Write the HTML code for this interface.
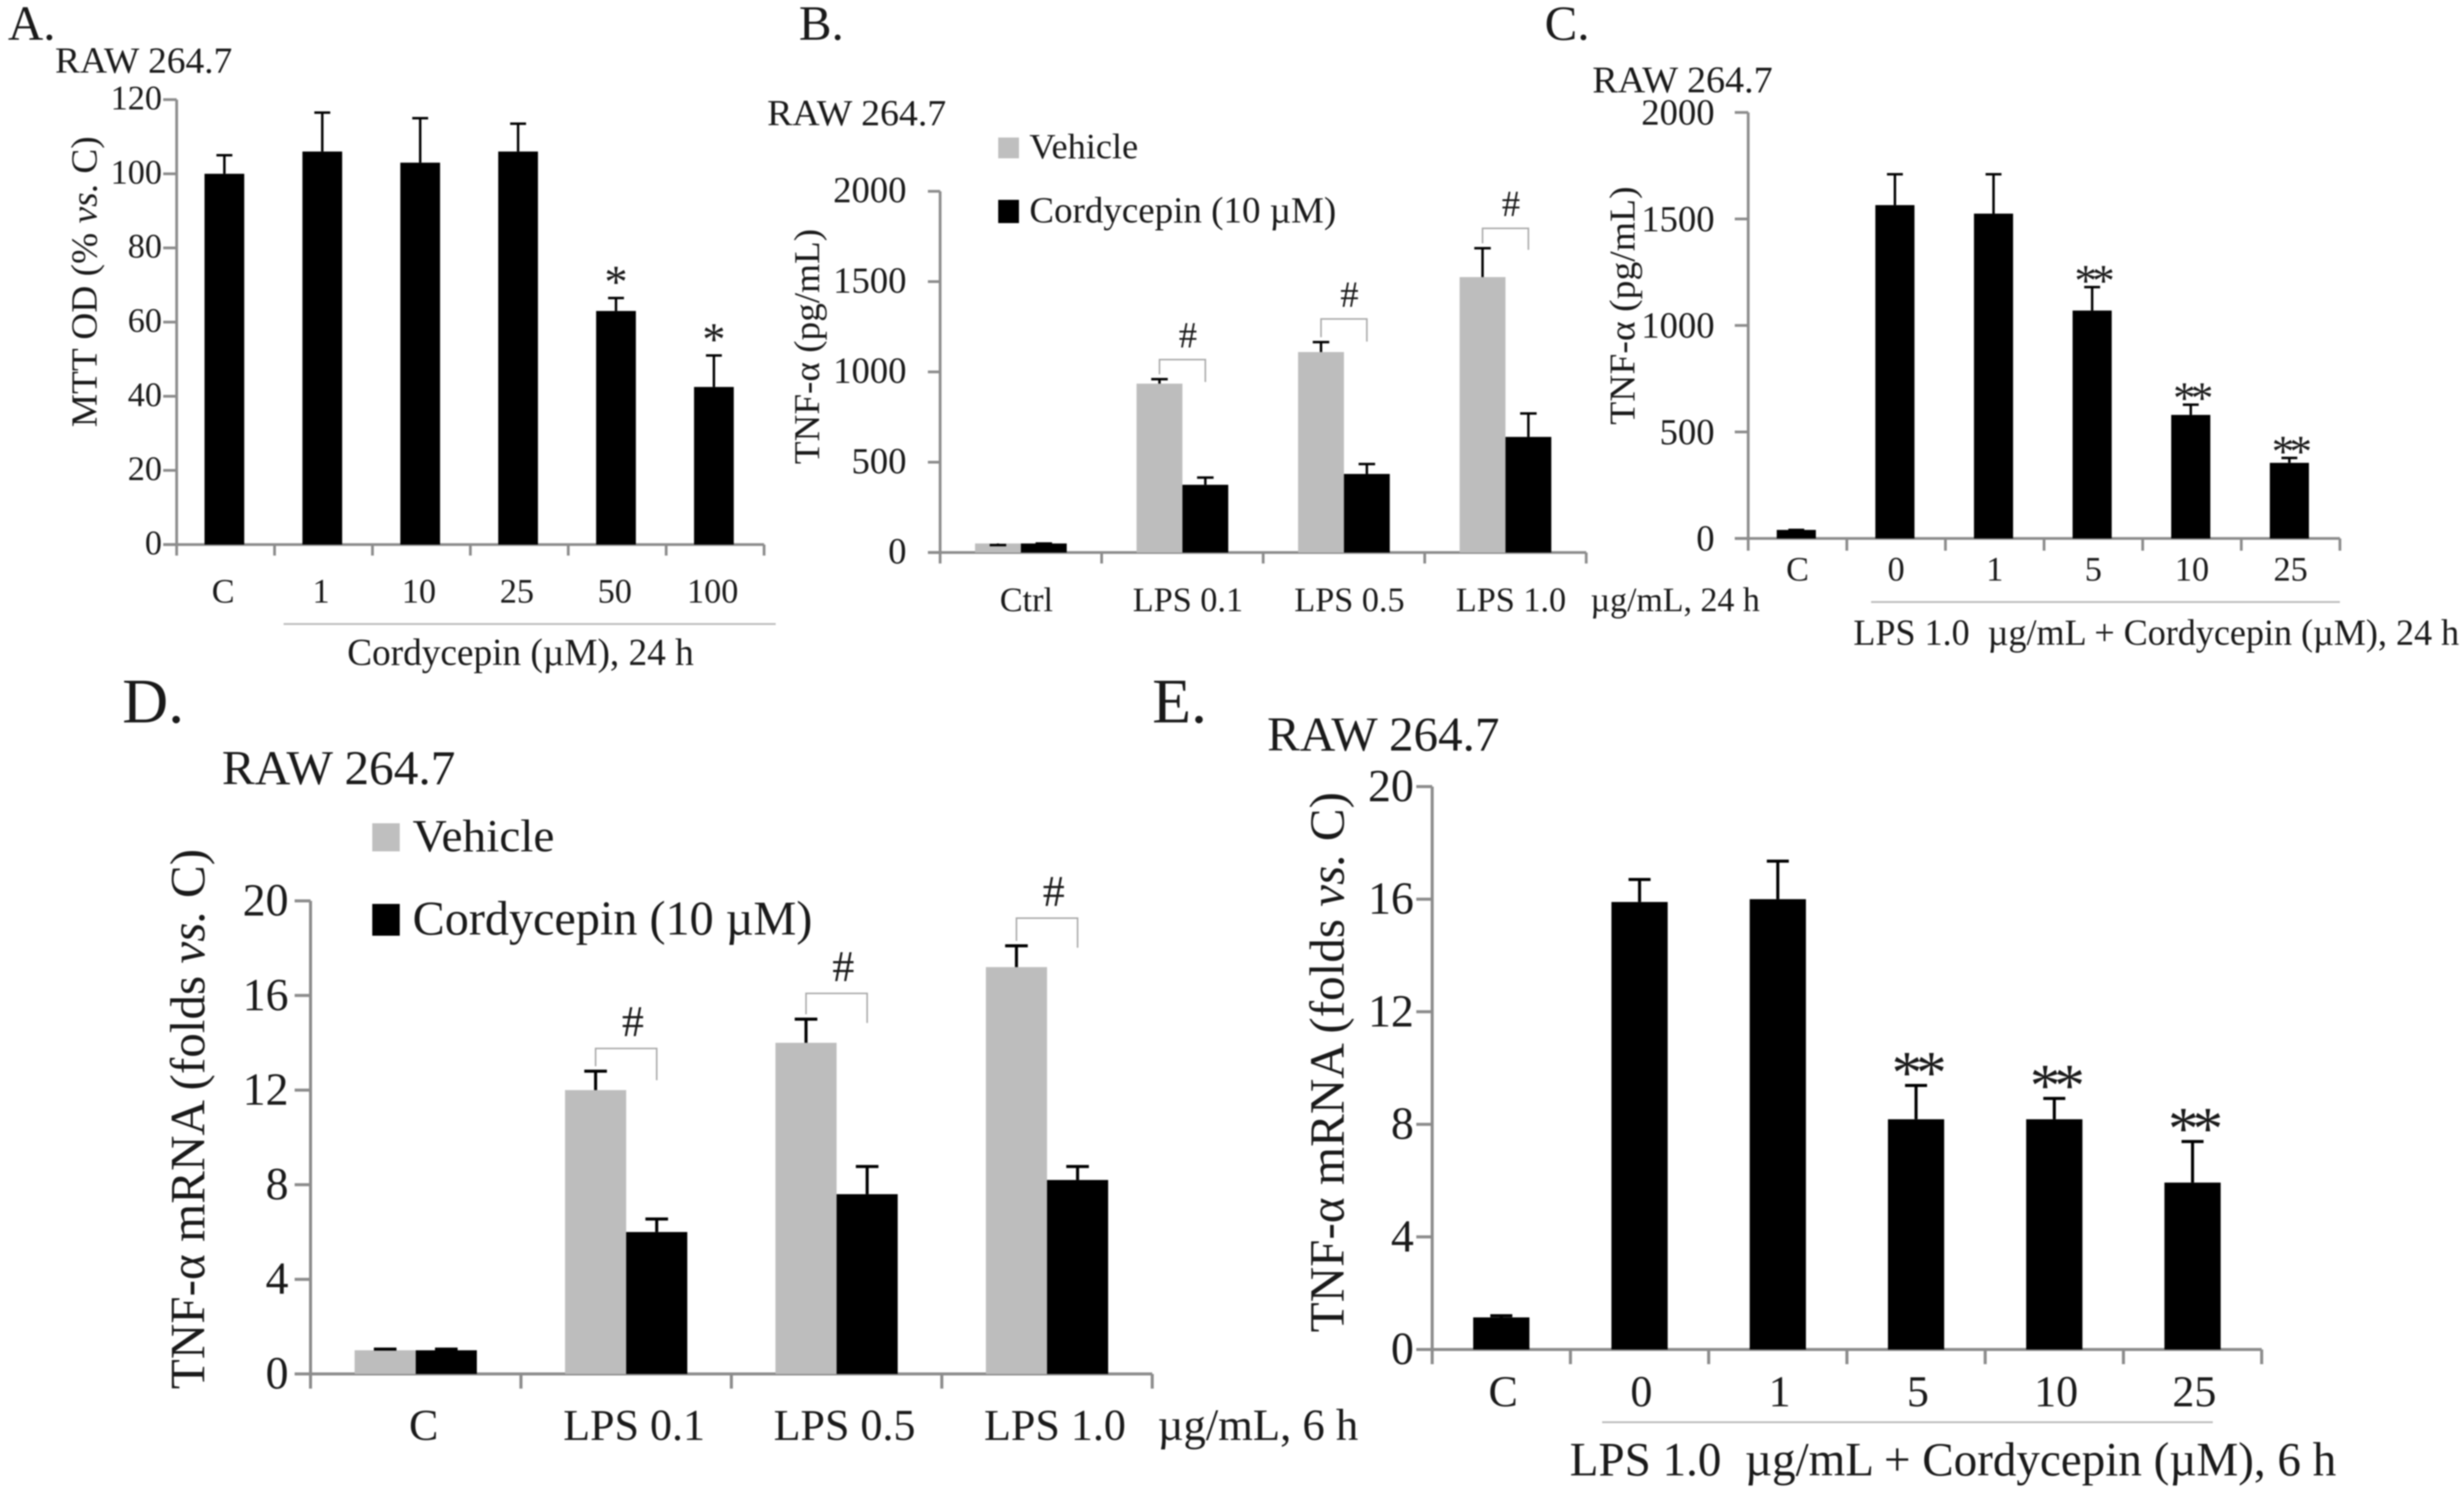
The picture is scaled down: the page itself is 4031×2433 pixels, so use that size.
<!DOCTYPE html>
<html lang="en">
<head>
<meta charset="utf-8">
<title>Cordycepin TNF-alpha figure</title>
<style>
html,body{margin:0;padding:0;background:#fff;}
svg{display:block;filter:blur(1.1px);}
text{font-family:"Liberation Serif",serif;fill:#1a1a1a;}
</style>
</head>
<body>
<svg id="figure" xmlns="http://www.w3.org/2000/svg" width="4031" height="2433" viewBox="0 0 4031 2433">
<rect x="0" y="0" width="4031" height="2433" fill="#fff"/>

<g id="panel-a">
<text x="13" y="65" font-size="80">A.</text>
<text x="90" y="119" font-size="60" textLength="290" lengthAdjust="spacingAndGlyphs">RAW 264.7</text>
<text transform="translate(158,461) rotate(-90)" text-anchor="middle" font-size="60" textLength="476" lengthAdjust="spacingAndGlyphs">MTT OD (% <tspan font-style="italic">vs.</tspan> C)</text>
<line x1="464" y1="1021" x2="1269" y2="1021" stroke="#bbb" stroke-width="3"/>
<text x="568" y="1088" font-size="62" textLength="567" lengthAdjust="spacingAndGlyphs">Cordycepin (µM), 24 h</text>
</g>

<g id="panel-b">
<text x="1307" y="65" font-size="80">B.</text>
<text x="1255" y="205" font-size="60" textLength="293" lengthAdjust="spacingAndGlyphs">RAW 264.7</text>
<rect x="1633" y="225" width="34" height="34" fill="#bfbfbf"/>
<text x="1684" y="259" font-size="58" textLength="178" lengthAdjust="spacingAndGlyphs">Vehicle</text>
<rect x="1633" y="327" width="34" height="38" fill="#000"/>
<text x="1684" y="364" font-size="60" textLength="502" lengthAdjust="spacingAndGlyphs">Cordycepin (10 µM)</text>
<text transform="translate(1340,567) rotate(-90)" text-anchor="middle" font-size="59" textLength="385" lengthAdjust="spacingAndGlyphs">TNF-α (pg/mL)</text>
<text x="2602" y="1000" font-size="56" textLength="277" lengthAdjust="spacingAndGlyphs">µg/mL, 24 h</text>
</g>

<g id="panel-c">
<text x="2527" y="65" font-size="80">C.</text>
<text x="2605" y="151" font-size="61" textLength="295" lengthAdjust="spacingAndGlyphs">RAW 264.7</text>
<text transform="translate(2674,500) rotate(-90)" text-anchor="middle" font-size="59" textLength="390" lengthAdjust="spacingAndGlyphs">TNF-α (pg/mL)</text>
<line x1="3061" y1="985" x2="3828" y2="985" stroke="#bbb" stroke-width="3"/>
<text x="3032" y="1055" font-size="60" xml:space="preserve" textLength="991" lengthAdjust="spacingAndGlyphs">LPS 1.0  µg/mL + Cordycepin (µM), 24 h</text>
</g>

<g id="panel-d">
<text x="200" y="1182" font-size="104">D.</text>
<text x="363" y="1283" font-size="79" textLength="382" lengthAdjust="spacingAndGlyphs">RAW 264.7</text>
<rect x="609" y="1347" width="45" height="46" fill="#bfbfbf"/>
<text x="675" y="1393" font-size="75" textLength="232" lengthAdjust="spacingAndGlyphs">Vehicle</text>
<rect x="609" y="1479" width="45" height="52" fill="#000"/>
<text x="675" y="1529" font-size="79" textLength="654" lengthAdjust="spacingAndGlyphs">Cordycepin (10 µM)</text>
<text transform="translate(334,1831) rotate(-90)" text-anchor="middle" font-size="80" textLength="884" lengthAdjust="spacingAndGlyphs">TNF-α mRNA (folds <tspan font-style="italic">vs.</tspan> C)</text>
<text x="1894" y="2356" font-size="73" textLength="328" lengthAdjust="spacingAndGlyphs">µg/mL, 6 h</text>
</g>

<g id="panel-e">
<text x="1885" y="1182" font-size="104">E.</text>
<text x="2073" y="1228" font-size="79" textLength="380" lengthAdjust="spacingAndGlyphs">RAW 264.7</text>
<text transform="translate(2198,1738) rotate(-90)" text-anchor="middle" font-size="80" textLength="884" lengthAdjust="spacingAndGlyphs">TNF-α mRNA (folds <tspan font-style="italic">vs.</tspan> C)</text>
<line x1="2621" y1="2327" x2="3620" y2="2327" stroke="#bbb" stroke-width="3"/>
<text x="2568" y="2414" font-size="78" xml:space="preserve" textLength="1254" lengthAdjust="spacingAndGlyphs">LPS 1.0  µg/mL + Cordycepin (µM), 6 h</text>
</g>
</svg>

<script>
// Panel A
const aCategories = ['C', '1', '10', '25', '50', '100'];
const aValues = [100, 106, 103, 106, 63, 42.5];
const aErrorTops = [105, 116.5, 115, 113.5, 66.5, 51];
const aStars = ['', '', '', '', '*', '*'];
const aTicks = [0, 20, 40, 60, 80, 100, 120];

// Panel B
const bCategories = ['Ctrl', 'LPS 0.1', 'LPS 0.5', 'LPS 1.0'];
const bVehicle = [50, 935, 1110, 1525];
const bVehicleErrorTops = [41, 960, 1165, 1685];
const bCordycepin = [50, 375, 435, 640];
const bCordycepinErrorTops = [50, 415, 490, 770];
const bBracketTops = [null, 1068, 1293, 1795];
const bBracketRightEnds = [null, 944, 1168, 1676];
const bTicks = [0, 500, 1000, 1500, 2000];

// Panel C
const cCategories = ['C', '0', '1', '5', '10', '25'];
const cValues = [40, 1565, 1525, 1070, 580, 355];
const cErrorTops = [40, 1710, 1710, 1180, 628, 378];
const cStars = ['', '', '', '**', '**', '**'];
const cTicks = [0, 500, 1000, 1500, 2000];

// Panel D
const dCategories = ['C', 'LPS 0.1', 'LPS 0.5', 'LPS 1.0'];
const dVehicle = [1, 12, 14, 17.2];
const dVehicleErrorTops = [1.05, 12.8, 15, 18.1];
const dCordycepin = [1, 6, 7.6, 8.2];
const dCordycepinErrorTops = [1.05, 6.55, 8.77, 8.77];
const dBracketTops = [null, 13.76, 16.09, 19.27];
const dBracketRightEnds = [null, 12.42, 14.84, 18.02];
const dTicks = [0, 4, 8, 12, 16, 20];

// Panel E
const eCategories = ['C', '0', '1', '5', '10', '25'];
const eValues = [1.14, 15.9, 16, 8.18, 8.18, 5.93];
const eErrorTops = [1.2, 16.7, 17.35, 9.38, 8.92, 7.39];
const eStars = ['', '', '', '**', '**', '**'];
const eTicks = [0, 4, 8, 12, 16, 20];

const SVG_NS = 'http://www.w3.org/2000/svg';
const AXIS_COLOR = '#8c8c8c';
const VEHICLE_COLOR = '#bdbdbd';

function create(tag, attrs, parent) {
  const el = document.createElementNS(SVG_NS, tag);
  for (const key in attrs) el.setAttribute(key, attrs[key]);
  parent.appendChild(el);
  return el;
}

function yScale(layout, ticks) {
  const max = ticks[ticks.length - 1];
  return v => layout.bottom - (v / max) * (layout.bottom - layout.top);
}

function bandCenter(layout, count, i) {
  return layout.left + (layout.right - layout.left) * (i + 0.5) / count;
}

function drawAxes(group, layout, categories, ticks) {
  const y = yScale(layout, ticks);
  const yAxis = create('line', { x1: layout.left, x2: layout.left, y1: layout.top, y2: layout.bottom, stroke: AXIS_COLOR, 'stroke-width': layout.axisWidth }, group);
  
  
  const xAxis = create('line', { x1: layout.left - layout.tickLen, x2: layout.right, y1: layout.bottom, y2: layout.bottom, stroke: AXIS_COLOR, 'stroke-width': layout.axisWidth }, group);
  
  

  ticks.forEach(t => {
    const mark = create('line', { x1: layout.left - layout.tickLen, x2: layout.left, y1: y(t), y2: y(t), stroke: AXIS_COLOR, 'stroke-width': layout.axisWidth }, group);
    
    
    const label = create('text', { x: layout.tickLabelX, y: y(t) + layout.tickBaseline, 'text-anchor': 'end', 'font-size': layout.tickSize }, group);
    
    
    label.textContent = t;
  });

  for (let i = 0; i <= categories.length; i++) {
    const tx = layout.left + (layout.right - layout.left) * i / categories.length;
    const mark = create('line', { x1: tx, x2: tx, y1: layout.bottom, y2: layout.bottom + layout.xTickLen, stroke: AXIS_COLOR, 'stroke-width': layout.axisWidth }, group);
    
    
  }

  categories.forEach((c, i) => {
    const label = create('text', { x: bandCenter(layout, categories.length, i) + layout.labelDx, y: layout.labelY, 'text-anchor': 'middle', 'font-size': layout.labelSize }, group);
    
    
    label.textContent = c;
  });
}

function drawBar(group, layout, ticks, cx, value, errorTop, fill) {
  const y = yScale(layout, ticks);
  const bar = create('rect', { x: cx - layout.barWidth / 2, y: y(value), width: layout.barWidth, height: layout.bottom - y(value), fill: fill }, group);
  
  
  const stem = create('line', { x1: cx, x2: cx, y1: y(value), y2: y(errorTop), stroke: '#000', 'stroke-width': layout.errWidth }, group);
  
  
  const cap = create('line', { x1: cx - layout.capWidth / 2, x2: cx + layout.capWidth / 2, y1: y(errorTop), y2: y(errorTop), stroke: '#000', 'stroke-width': layout.errWidth }, group);
  
  
}

function drawSingle(groupId, layout, categories, values, errorTops, stars, ticks) {
  const group = document.getElementById(groupId);
  const y = yScale(layout, ticks);
  drawAxes(group, layout, categories, ticks);
  categories.forEach((c, i) => {
    const cx = bandCenter(layout, categories.length, i) + layout.barDx;
    drawBar(group, layout, ticks, cx, values[i], errorTops[i], '#000');
    if (stars[i]) {
      const star = create('text', { x: cx, y: y(errorTops[i]) + layout.starBaseline, 'text-anchor': 'middle', 'font-size': layout.starSize, 'letter-spacing': layout.starSpacing }, group);
      
      
      star.textContent = stars[i];
    }
  });
}

function drawGrouped(groupId, layout, categories, vehicle, vehicleTops, cordycepin, cordycepinTops, bracketTops, bracketEnds, ticks) {
  const group = document.getElementById(groupId);
  const y = yScale(layout, ticks);
  drawAxes(group, layout, categories, ticks);
  categories.forEach((c, i) => {
    const center = bandCenter(layout, categories.length, i);
    const vx = center - layout.barWidth / 2;
    const cx = center + layout.barWidth / 2;
    drawBar(group, layout, ticks, vx, vehicle[i], vehicleTops[i], VEHICLE_COLOR);
    drawBar(group, layout, ticks, cx, cordycepin[i], cordycepinTops[i], '#000');
    if (bracketTops[i] !== null) {
      const top = y(bracketTops[i]);
      const d = 'M' + vx + ' ' + (y(vehicleTops[i]) - 8) + 'V' + top + 'H' + cx + 'V' + y(bracketEnds[i]);
      const bracket = create('path', { d: d, fill: 'none', stroke: '#a8a8a8', 'stroke-width': 2.5 }, group);
      
      
      const hash = create('text', { x: center + layout.hashDx, y: top - 20, 'text-anchor': 'middle', 'font-size': layout.hashSize }, group);
      
      
      hash.textContent = '#';
    }
  });
}

const aLayout = { left: 289, right: 1250, top: 163, bottom: 891, axisWidth: 4.5, tickLen: 22, xTickLen: 18, tickLabelX: 265, tickBaseline: 16, tickSize: 56, labelDx: -4, labelY: 986, labelSize: 56, barDx: -2, barWidth: 65, errWidth: 4, capWidth: 26, starBaseline: -1, starSize: 76, starSpacing: 0 };
const bLayout = { left: 1538, right: 2595, top: 313, bottom: 904, axisWidth: 4.5, tickLen: 20, xTickLen: 18, tickLabelX: 1483, tickBaseline: 18, tickSize: 60, labelDx: 9, labelY: 1000, labelSize: 56, barWidth: 75, errWidth: 4, capWidth: 27, hashDx: 9, hashSize: 60 };
const cLayout = { left: 2860, right: 3828, top: 184, bottom: 881, axisWidth: 4.5, tickLen: 22, xTickLen: 20, tickLabelX: 2805, tickBaseline: 20, tickSize: 60, labelDx: 0, labelY: 950, labelSize: 56, barDx: -2, barWidth: 64, errWidth: 4, capWidth: 26, starBaseline: 14, starSize: 74, starSpacing: -8 };
const dLayout = { left: 508, right: 1885, top: 1474, bottom: 2248, axisWidth: 5, tickLen: 26, xTickLen: 24, tickLabelX: 472, tickBaseline: 24, tickSize: 75, labelDx: 13, labelY: 2356, labelSize: 72, barWidth: 100, errWidth: 5, capWidth: 37, hashDx: 11, hashSize: 72 };
const eLayout = { left: 2343, right: 3700, top: 1287, bottom: 2208, axisWidth: 5, tickLen: 26, xTickLen: 24, tickLabelX: 2313, tickBaseline: 24, tickSize: 75, labelDx: 3, labelY: 2301, labelSize: 72, barDx: 0, barWidth: 92, errWidth: 5, capWidth: 36, starBaseline: 12, starSize: 100, starSpacing: -10 };

drawSingle('panel-a', aLayout, aCategories, aValues, aErrorTops, aStars, aTicks);
drawGrouped('panel-b', bLayout, bCategories, bVehicle, bVehicleErrorTops, bCordycepin, bCordycepinErrorTops, bBracketTops, bBracketRightEnds, bTicks);
drawSingle('panel-c', cLayout, cCategories, cValues, cErrorTops, cStars, cTicks);
drawGrouped('panel-d', dLayout, dCategories, dVehicle, dVehicleErrorTops, dCordycepin, dCordycepinErrorTops, dBracketTops, dBracketRightEnds, dTicks);
drawSingle('panel-e', eLayout, eCategories, eValues, eErrorTops, eStars, eTicks);
</script>
</body>
</html>
